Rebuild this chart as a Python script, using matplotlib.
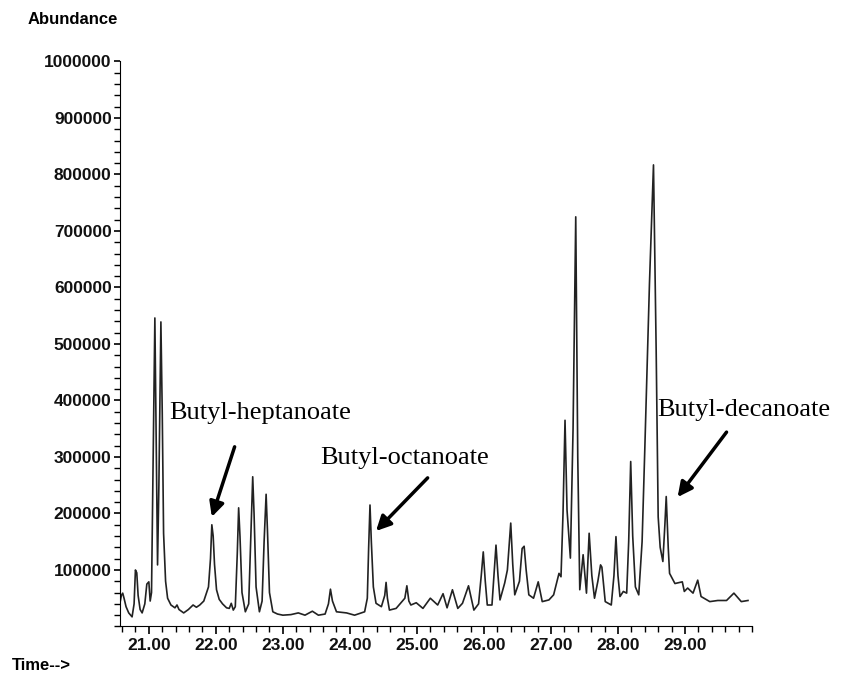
import matplotlib
matplotlib.use("Agg")
import matplotlib.pyplot as plt
from matplotlib.ticker import MultipleLocator, FormatStrFormatter

# retention time (min) and abundance
time = [20.57, 20.59, 20.61, 20.63, 20.66, 20.70, 20.75, 20.78, 20.80, 20.82, 20.84, 20.87,
        20.90, 20.94, 20.97, 21.00, 21.02, 21.04, 21.07, 21.09, 21.11, 21.13, 21.15, 21.18,
        21.20, 21.22, 21.25, 21.28, 21.33, 21.39, 21.42, 21.45, 21.52, 21.59, 21.66, 21.71,
        21.76, 21.82, 21.86, 21.89, 21.92, 21.94, 21.96, 21.98, 22.01, 22.05, 22.10, 22.16,
        22.20, 22.23, 22.26, 22.29, 22.32, 22.34, 22.36, 22.39, 22.44, 22.49, 22.52, 22.55,
        22.57, 22.60, 22.65, 22.69, 22.72, 22.75, 22.77, 22.80, 22.85, 22.92, 23.00, 23.12,
        23.23, 23.33, 23.44, 23.53, 23.63, 23.68, 23.71, 23.74, 23.80, 23.95, 24.07, 24.22,
        24.26, 24.28, 24.30, 24.32, 24.35, 24.39, 24.47, 24.52, 24.54, 24.56, 24.59, 24.69,
        24.82, 24.85, 24.88, 24.91, 24.99, 25.09, 25.20, 25.31, 25.39, 25.45, 25.53, 25.61,
        25.68, 25.77, 25.85, 25.92, 25.96, 25.99, 26.02, 26.05, 26.12, 26.15, 26.18, 26.21,
        26.24, 26.31, 26.35, 26.38, 26.40, 26.43, 26.46, 26.53, 26.57, 26.60, 26.63, 26.67,
        26.74, 26.81, 26.87, 26.97, 27.04, 27.12, 27.15, 27.18, 27.21, 27.24, 27.29, 27.33,
        27.37, 27.40, 27.43, 27.48, 27.53, 27.57, 27.61, 27.65, 27.70, 27.74, 27.76, 27.81,
        27.90, 27.94, 27.97, 28.00, 28.03, 28.08, 28.13, 28.16, 28.19, 28.22, 28.26, 28.31,
        28.36, 28.40, 28.47, 28.53, 28.57, 28.60, 28.63, 28.67, 28.70, 28.72, 28.75, 28.77,
        28.85, 28.96, 28.99, 29.04, 29.12, 29.19, 29.24, 29.37, 29.49, 29.62, 29.73, 29.84,
        29.94]
abundance = [42000, 55000, 59000, 50000, 35000, 24000, 17000, 40000, 100000, 95000, 55000, 30000,
             24000, 40000, 75000, 79000, 45000, 60000, 350000, 546000, 330000, 109000, 250000, 539000,
             380000, 165000, 80000, 50000, 38000, 33000, 38000, 30000, 24000, 30000, 38000, 34000,
             38000, 45000, 59000, 70000, 120000, 180000, 160000, 110000, 65000, 48000, 40000, 33000,
             32000, 41000, 29000, 35000, 130000, 210000, 160000, 60000, 26000, 40000, 150000, 265000,
             200000, 70000, 26000, 45000, 150000, 234000, 170000, 60000, 26000, 22000, 20000, 21000,
             24000, 20000, 27000, 20000, 22000, 40000, 66000, 45000, 26000, 24000, 20000, 26000,
             50000, 140000, 215000, 150000, 70000, 41000, 35000, 55000, 78000, 50000, 29000, 32000,
             50000, 72000, 45000, 38000, 42000, 32000, 50000, 38000, 58000, 33000, 65000, 32000,
             41000, 72000, 29000, 40000, 90000, 132000, 80000, 38000, 38000, 90000, 144000, 90000,
             47000, 77000, 100000, 150000, 183000, 110000, 56000, 80000, 138000, 142000, 100000, 56000,
             50000, 79000, 44000, 47000, 56000, 94000, 88000, 200000, 365000, 206000, 121000, 350000,
             725000, 300000, 65000, 127000, 59000, 165000, 90000, 50000, 80000, 109000, 105000, 44000,
             38000, 90000, 159000, 90000, 53000, 62000, 59000, 150000, 292000, 160000, 70000, 56000,
             150000, 312000, 607000, 817000, 489000, 194000, 140000, 115000, 180000, 230000, 140000, 94000,
             76000, 79000, 62000, 68000, 59000, 82000, 53000, 44000, 46000, 46000, 59000, 44000,
             46000]

time_ticks = [21, 22, 23, 24, 25, 26, 27, 28, 29]

compounds = ["Butyl-heptanoate", "Butyl-octanoate", "Butyl-decanoate"]
peak_time = [21.94, 24.39, 28.89]
peak_abund = [194000, 169000, 229000]
tail_time = [22.28, 25.16, 29.62]
tail_abund = [318000, 263000, 344000]
label_time = [21.30, 23.56, 28.58]
label_abund = [378000, 298000, 383000]

fig = plt.figure(figsize=(8.44, 6.78), dpi=100)
ax = fig.add_axes([0.1422, 0.0760, 0.7488, 0.8333])
ax.plot(time, abundance, color="#222222", lw=1.2)

ax.set_xlim(20.57, 30.0)
ax.set_ylim(0, 1000000)
for s in ("top", "right"):
    ax.spines[s].set_visible(False)
ax.set_xticks(time_ticks)
ax.xaxis.set_minor_locator(MultipleLocator(0.2))
ax.xaxis.set_major_formatter(FormatStrFormatter("%.2f"))
ax.set_yticks(list(range(100000, 1000001, 100000)))
ax.yaxis.set_minor_locator(MultipleLocator(20000))
ax.yaxis.set_major_formatter(FormatStrFormatter("%d"))
ax.tick_params(which="major", length=6, width=1.2, labelsize=12.5)
ax.tick_params(axis="y", which="major", length=4, pad=2)
ax.tick_params(axis="x", which="major", pad=2)
ax.tick_params(which="minor", length=4, width=1)
for lab in ax.get_xticklabels() + ax.get_yticklabels():
    lab.set_fontfamily("Liberation Sans")
    lab.set_fontweight("bold")
    lab.set_color("#111111")

for name, pt, pa, tt, ta, lt, la in zip(compounds, peak_time, peak_abund, tail_time,
                                        tail_abund, label_time, label_abund):
    ax.annotate("", xy=(pt, pa), xytext=(tt, ta),
                arrowprops=dict(arrowstyle="-|>", lw=2.5, color="black", mutation_scale=22,
                                shrinkA=0, shrinkB=0))
    ax.text(lt, la, name, ha="left", va="center", fontsize=19,
            family="Liberation Serif", color="black")

fig.text(28 / 844, 1 - 20 / 678, "Abundance", ha="left", va="center", fontsize=12,
         family="Liberation Sans", fontweight="bold")
fig.text(12 / 844, 1 - 666 / 678, "Time-->", ha="left", va="center", fontsize=12,
         family="Liberation Sans", fontweight="bold")

fig.savefig("out.png", dpi=100)
